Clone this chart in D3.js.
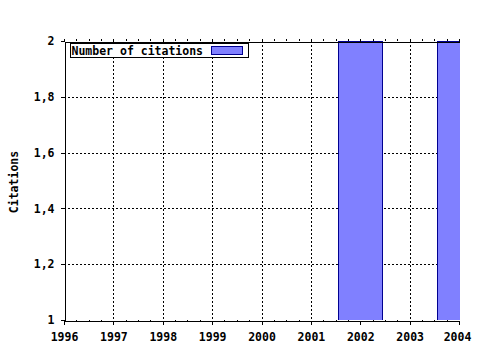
<!DOCTYPE html>
<html>
<head>
<meta charset="utf-8">
<script src="https://cdn.jsdelivr.net/npm/d3@7"></script>
<style>
  body { margin: 0; background: #fff; }
  text { font-family: "DejaVu Sans Mono", monospace; font-weight: bold; font-size: 11.5px; fill: #000; }
  .grid line { stroke: #000; stroke-dasharray: 2,2; shape-rendering: crispEdges; }
  .axis path, .axis line { stroke: #000; shape-rendering: crispEdges; }
</style>
</head>
<body>
<svg id="chart" width="480" height="350"></svg>
<script>
'use strict';

var years = [1996, 1997, 1998, 1999, 2000, 2001, 2002, 2003, 2004];
var citations = [0, 0, 0, 0, 0, 0, 2, 0, 2];
var yTicks = [1, 1.2, 1.4, 1.6, 1.8, 2];
var seriesName = 'Number of citations';

(function () {
  var svg = d3.select('#chart');
  var pLeft = 64, pRight = 459, pTop = 41, pBottom = 320;

  var x = d3.scaleLinear().domain([1996, 2004]).range([pLeft, pRight]);
  var y = d3.scaleLinear().domain([1, 2]).range([pBottom, pTop]);
  var fmt = function (d) { return String(d).replace('.', ','); };

  // dotted grid
  svg.append('g').attr('class', 'grid').selectAll('line')
    .data(years.slice(1, -1)).enter().append('line')
    .attr('x1', function (d) { return Math.round(x(d)) + 0.5; }).attr('x2', function (d) { return Math.round(x(d)) + 0.5; })
    .attr('y1', pTop).attr('y2', pBottom);
  svg.append('g').attr('class', 'grid').selectAll('line')
    .data(yTicks.slice(1, -1)).enter().append('line')
    .attr('x1', pLeft).attr('x2', pRight)
    .attr('y1', function (d) { return Math.round(y(d)) + 0.5; }).attr('y2', function (d) { return Math.round(y(d)) + 0.5; });

  // bars, clipped to the plot area
  svg.append('clipPath').attr('id', 'plot').append('rect')
    .attr('x', pLeft).attr('y', pTop).attr('width', pRight - pLeft + 1).attr('height', pBottom - pTop);
  var barData = years.map(function (yr, i) { return { year: yr, value: citations[i] }; })
    .filter(function (d) { return d.value > y.domain()[0]; });
  svg.append('g').attr('clip-path', 'url(#plot)').selectAll('rect')
    .data(barData).enter().append('rect')
    .attr('x', function (d) { return Math.round(x(d.year - 0.45)) + 0.5; })
    .attr('width', function (d) { return Math.round(x(d.year + 0.45) - x(d.year - 0.45)); })
    .attr('y', function (d) { return Math.round(y(d.value)) + 0.5; })
    .attr('height', function (d) { return Math.round(y(1) - y(d.value)); })
    .attr('fill', '#8080ff').attr('stroke', '#000090').attr('stroke-width', 1);

  // minor ticks (quarter years)
  var minor = d3.range(1996, 2004.01, 0.25).filter(function (d) { return d % 1 !== 0; });
  var mt = svg.append('g').attr('class', 'axis');
  mt.selectAll('line.b').data(minor).enter().append('line').attr('class', 'b')
    .attr('x1', function (d) { return Math.round(x(d)) + 0.5; }).attr('x2', function (d) { return Math.round(x(d)) + 0.5; })
    .attr('y1', pBottom).attr('y2', pBottom + 2);
  mt.selectAll('line.t').data(minor).enter().append('line').attr('class', 't')
    .attr('x1', function (d) { return Math.round(x(d)) + 0.5; }).attr('x2', function (d) { return Math.round(x(d)) + 0.5; })
    .attr('y1', pTop).attr('y2', pTop - 2);

  // axes
  var xAxis = svg.append('g').attr('class', 'axis').attr('transform', 'translate(0,' + (pBottom + 0.5) + ')')
    .call(d3.axisBottom(x).tickValues(years).tickFormat(d3.format('d')).tickSize(4).tickSizeOuter(0).tickPadding(6));
  xAxis.selectAll('text').attr('dy', '0.9em');
  xAxis.select('.tick:last-of-type text').attr('dx', -2);

  svg.append('g').attr('class', 'axis').attr('transform', 'translate(0,' + (pTop + 0.5) + ')')
    .call(d3.axisTop(x).tickValues(years).tickFormat('').tickSize(3).tickSizeOuter(0));

  svg.append('g').attr('class', 'axis').attr('transform', 'translate(' + (pLeft + 0.5) + ',0)')
    .call(d3.axisLeft(y).tickValues(yTicks).tickFormat(fmt).tickSize(4).tickSizeOuter(0).tickPadding(6));

  // y-axis title
  svg.append('text')
    .attr('transform', 'translate(18,182) rotate(-90)')
    .attr('text-anchor', 'middle')
    .text('Citations');

  // legend
  var lg = svg.append('g').attr('transform', 'translate(70.5,43.5)');
  lg.append('rect').attr('width', 178).attr('height', 14).attr('fill', '#fff').attr('stroke', '#000');
  lg.append('text').attr('x', 1).attr('y', 11).text(seriesName);
  lg.append('rect').attr('x', 141).attr('y', 3).attr('width', 31).attr('height', 8)
    .attr('fill', '#8080ff').attr('stroke', '#000090');
})();
</script>
</body>
</html>
